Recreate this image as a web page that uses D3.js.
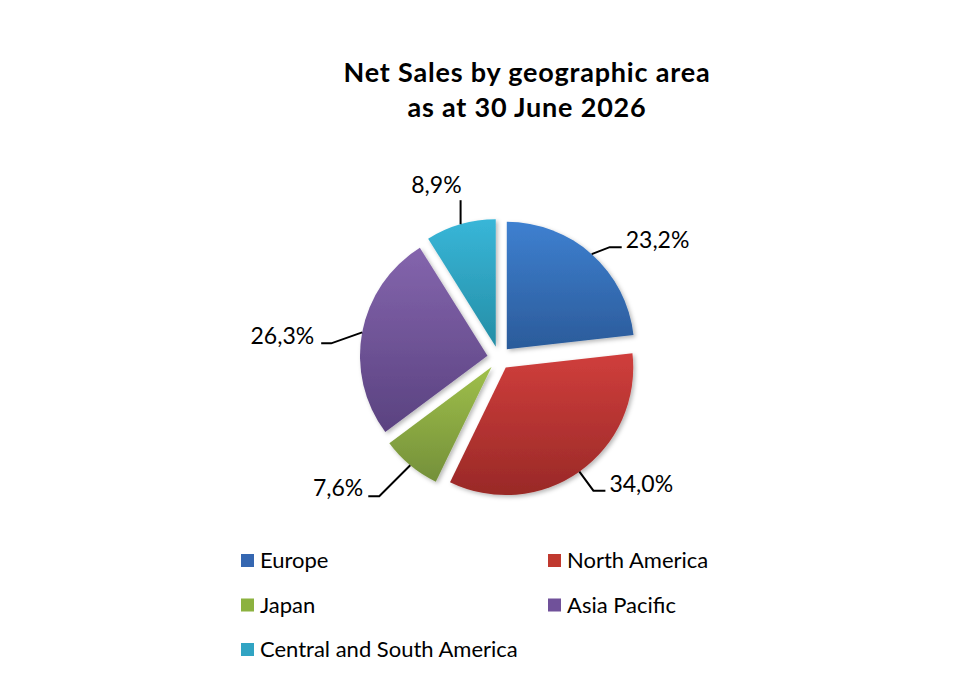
<!DOCTYPE html>
<html>
<head>
<meta charset="utf-8">
<title>Net Sales by geographic area</title>
<script src="https://cdn.jsdelivr.net/npm/d3@7"></script>
<style>
  body { margin: 0; background: #fff; font-family: Lato, "Open Sans", sans-serif; }
  #chart { display: block; }
  .title { font-weight: bold; font-size: 27px; letter-spacing: 0.8px; fill: #000; text-anchor: middle; }
  .label { font-size: 23px; fill: #000; }
  .legend text { font-size: 22px; fill: #000; }
  .leader { fill: none; stroke: #000; stroke-width: 2; }
</style>
</head>
<body>
<svg id="chart" width="954" height="696"></svg>
<script>
  // data
  const areas = ["Europe", "North America", "Japan", "Asia Pacific", "Central and South America"];
  const shares = [23.2, 34.0, 7.6, 26.3, 8.9];
  const shareLabels = ["23,2%", "34,0%", "7,6%", "26,3%", "8,9%"];
  const titleLines = ["Net Sales by geographic area", "as at 30 June 2026"];

  // colours (top / bottom of each slice gradient, legend key)
  const topColours = ["#3e80d0", "#d03e3c", "#9fbf4a", "#8465ad", "#38b6d8"];
  const bottomColours = ["#2b5b9a", "#992927", "#74903a", "#5a4280", "#258ea6"];
  const keyColours = ["#3567b1", "#c0392f", "#8cb23f", "#70519a", "#31a4c3"];

  // layout
  const cx = 499, cy = 358, radius = 127.5, explode = 11.7;
  const elbows = [[18, -7], [14, 19], [-31, 31], [-31, 11], [0, -24]];
  const tails = [12, 12, -11, -10, 0];
  const labelShift = [[4, 1], [4, 1], [-5, 0], [-7, 1], [1, -7]];

  const chart = d3.select("#chart");
  const defs = chart.append("defs");

  const colour = d3.scaleOrdinal(areas, keyColours);

  // gradients
  areas.forEach((a, i) => {
    const g = defs.append("linearGradient")
      .attr("id", "grad" + i)
      .attr("x1", 0).attr("y1", 0).attr("x2", 0).attr("y2", 1);
    g.append("stop").attr("offset", "0%").attr("stop-color", topColours[i]);
    g.append("stop").attr("offset", "100%").attr("stop-color", bottomColours[i]);
  });

  const shadow = defs.append("filter").attr("id", "shadow")
    .attr("x", "-20%").attr("y", "-20%").attr("width", "140%").attr("height", "140%");
  shadow.append("feDropShadow")
    .attr("dx", 2).attr("dy", 2).attr("stdDeviation", 2)
    .attr("flood-color", "#000").attr("flood-opacity", 0.28);

  // title
  chart.append("g")
    .selectAll("text")
    .data(titleLines)
    .join("text")
    .attr("class", "title")
    .attr("x", 527)
    .attr("y", (d, i) => 82 + i * 35)
    .text(d => d);

  // pie
  const pie = d3.pie().sort(null).value(d => d);
  const arc = d3.arc().innerRadius(0).outerRadius(radius);
  const arcs = pie(shares);

  const mid = d => (d.startAngle + d.endAngle) / 2;

  const pieGroup = chart.append("g")
    .attr("transform", "translate(" + cx + "," + cy + ")");

  pieGroup.selectAll("path")
    .data(arcs)
    .join("path")
    .attr("transform", d => {
      const [ox, oy] = d3.pointRadial(mid(d), explode);
      return "translate(" + ox + "," + oy + ")";
    })
    .attr("d", arc)
    .attr("fill", (d, i) => "url(#grad" + i + ")")
    .attr("filter", "url(#shadow)");

  // leader lines + labels
  const labelGroup = pieGroup.append("g");
  arcs.forEach((d, i) => {
    const [sx, sy] = d3.pointRadial(mid(d), radius + explode);
    const ex = sx + elbows[i][0], ey = sy + elbows[i][1];
    const tx = ex + tails[i];
    labelGroup.append("path")
      .attr("class", "leader")
      .attr("d", d3.line()([[sx, sy], [ex, ey], [tx, ey]]));
    labelGroup.append("text")
      .attr("class", "label")
      .attr("x", tx + labelShift[i][0])
      .attr("y", ey + labelShift[i][1])
      .attr("text-anchor", tails[i] > 0 ? "start" : "end")
      .text(shareLabels[i]);
  });

  // legend
  const legend = chart.append("g").attr("class", "legend");
  const colX = [241, 548];
  const key = legend.selectAll("g")
    .data(areas)
    .join("g")
    .attr("transform", (d, i) => "translate(" + colX[i % 2] + "," + (554 + Math.floor(i / 2) * 44.5) + ")");
  key.append("rect")
    .attr("width", 13).attr("height", 13)
    .attr("fill", d => colour(d));
  key.append("text")
    .attr("x", 19).attr("y", 6.5)
    .attr("dy", "0.35em")
    .text(d => d);
</script>
</body>
</html>
